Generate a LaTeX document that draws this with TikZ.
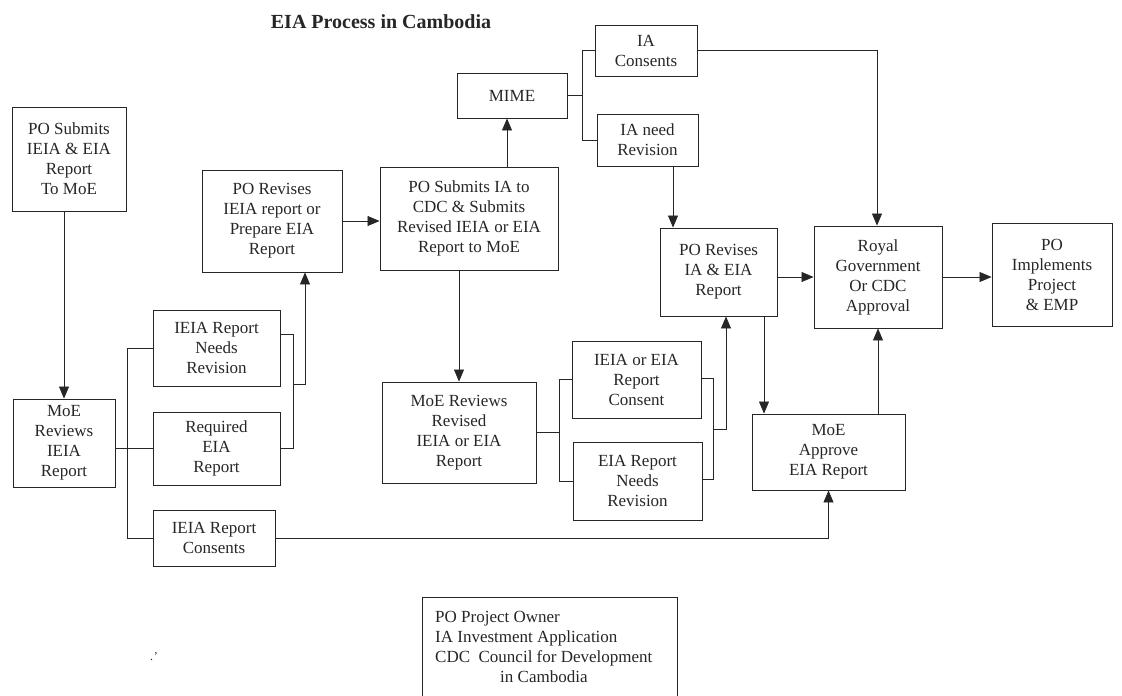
\documentclass[tikz,border=0pt]{standalone}
\usepackage{fontspec}
\setmainfont{Liberation Serif}
\usetikzlibrary{arrows.meta}
\begin{document}
\begin{tikzpicture}[x=1pt,y=-1pt,
  box/.style={draw=black!85, line width=0.9pt, align=center, inner sep=2pt,
    font=\fontsize{17}{20}\selectfont, text=black!85},
  conn/.style={draw=black!85, line width=0.8pt},
  arr/.style={conn, -{Triangle[length=12pt,width=10pt]}},
  legtext/.style={anchor=base west, inner sep=0pt, font=\fontsize{17}{20}\selectfont, text=black!85}]
\useasboundingbox (0,0) rectangle (1122,696);
% title
\node[font=\bfseries\fontsize{20}{24}\selectfont, text=black!85] (title) at (381,22) {EIA Process in Cambodia};
% boxes
\node[box, minimum width=114pt, minimum height=104pt] (p1) at (69,159) {PO Submits\\IEIA \& EIA\\Report\\To MoE};
\node[box, minimum width=102pt, minimum height=88pt] (moe1) at (64,443) {MoE\\Reviews\\IEIA\\Report};
\node[box, minimum width=127pt, minimum height=76pt] (nr) at (216.5,348) {IEIA Report\\Needs\\Revision};
\node[box, minimum width=127pt, minimum height=73pt] (req) at (216.5,448.5) {Required\\EIA\\Report};
\node[box, minimum width=122pt, minimum height=56pt] (cons) at (214,538) {IEIA Report\\Consents};
\node[box, minimum width=140pt, minimum height=102pt] (pr) at (272,221) {PO Revises\\IEIA report or\\Prepare EIA\\Report};
\node[box, minimum width=178pt, minimum height=103pt] (ps) at (469,218.5) {PO Submits IA to\\CDC \& Submits\\Revised IEIA or EIA\\Report to MoE};
\node[box, minimum width=110pt, minimum height=45pt] (mime) at (512,95.5) {MIME};
\node[box, minimum width=102pt, minimum height=51pt] (iac) at (646,50.5) {IA\\Consents};
\node[box, minimum width=101pt, minimum height=52pt] (ian) at (647.5,140) {IA need\\Revision};
\node[box, minimum width=117pt, minimum height=88pt] (pr2) at (718.5,272) {PO Revises\\IA \& EIA\\Report};
\node[box, minimum width=128pt, minimum height=102pt] (roy) at (878,277) {Royal\\Government\\Or CDC\\Approval};
\node[box, minimum width=120pt, minimum height=103pt] (imp) at (1052,274.5) {PO\\Implements\\Project\\\& EMP};
\node[box, minimum width=154pt, minimum height=101pt] (moe2) at (459,432.5) {MoE Reviews\\Revised\\IEIA or EIA\\Report};
\node[box, minimum width=129pt, minimum height=77pt] (rc) at (636.5,379.5) {IEIA or EIA\\Report\\Consent};
\node[box, minimum width=129pt, minimum height=78pt] (enr) at (637.5,481) {EIA Report\\Needs\\Revision};
\node[box, minimum width=153pt, minimum height=76pt] (ma) at (828.5,452) {MoE\\Approve\\EIA Report};
% legend
\draw[conn] (422,696) -- (422,597) -- (677,597) -- (677,696);
\node[legtext] (leg1) at (435,622) {PO Project Owner};
\node[legtext] (leg2) at (435,642) {IA Investment Application};
\node[legtext] (leg3) at (435,662) {CDC\ \ Council for Development};
\node[legtext] (leg4) at (500,682) {in Cambodia};
\node[font=\fontsize{12}{12}\selectfont, text=black!85, inner sep=0pt] (dots) at (154,657) {.\kern1pt'};
% connectors
\draw[arr] (moe1.north |- p1.south) -- (moe1.north);
\draw[conn] (moe1.east |- req.west) -- (req.west);
\draw[conn] (nr.west) -- ++(-25,0) |- (cons.west);
\draw[conn] ([yshift=14pt]nr.east) -- ++(13,0) coordinate (b1) |- (req.east);
\coordinate (j1) at (293,384);
\draw[arr] (j1) -| ([xshift=33pt]pr.south);
\draw[arr] (pr.east) -- (pr.east -| ps.west);
\draw[arr] ([xshift=-5pt]mime.south |- ps.north) -- ([xshift=-5pt]mime.south);
\draw[conn] (iac.west) -- ++(-12,0) coordinate (mb) |- (ian.west);
\draw[conn] (mime.east) -- (mime.east -| mb);
\draw[arr] (iac.east) -| ([xshift=-1pt]roy.north);
\draw[arr] ([xshift=25.5pt]ian.south) -- ([xshift=25.5pt]ian.south |- pr2.north);
\draw[arr] (pr2.east |- roy.west) -- (roy.west);
\draw[arr] (roy.east) -- (roy.east -| imp.west);
\draw[arr] (moe2.north |- ps.south) -- (moe2.north);
\draw[conn] (rc.west) -- ++(-12,0) coordinate (b3) |- (enr.west);
\draw[conn] (moe2.east) -- (moe2.east -| b3);
\draw[conn] ([yshift=1.5pt]rc.east) -- ++(12,0) coordinate (b4) |- ([yshift=2pt]enr.east);
\draw[arr] (b4 |- 0,429) -| ([xshift=7.5pt]pr2.south);
\draw[arr] ([xshift=45.5pt]pr2.south) -- ([xshift=45.5pt]pr2.south |- ma.north);
\draw[arr] (roy.south |- ma.north) -- (roy.south);
\draw[arr] (cons.east) -| (ma.south);
\end{tikzpicture}
\end{document}
